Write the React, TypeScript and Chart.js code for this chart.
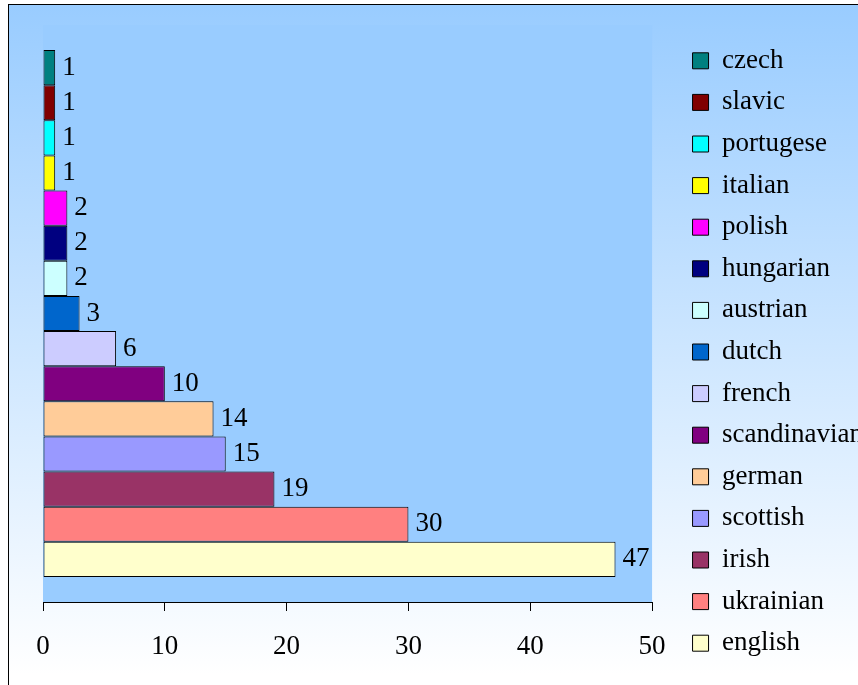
import React, { useEffect, useRef } from "react";
import { Chart, registerables } from "chart.js";

Chart.register(...registerables);

const seriesNames = [
  "czech", "slavic", "portugese", "italian", "polish", "hungarian", "austrian",
  "dutch", "french", "scandinavian", "german", "scottish", "irish", "ukrainian", "english",
];
const seriesValues = [1, 1, 1, 1, 2, 2, 2, 3, 6, 10, 14, 15, 19, 30, 47];
const seriesColors = [
  "#008080", "#800000", "#00FFFF", "#FFFF00", "#FF00FF", "#000080", "#CCFFFF",
  "#0066CC", "#CCCCFF", "#800080", "#FFCC99", "#9999FF", "#993366", "#FF8080", "#FFFFCC",
];
const categories = [""];
const xMin = 0;
const xMax = 50;
const xStep = 10;

const FONT = "'Liberation Serif', 'Times New Roman', serif";
const FONT_SIZE = 27;

const plotBgPlugin = {
  id: "plotBg",
  beforeDraw(chart: any) {
    const { ctx, chartArea } = chart;
    if (!chartArea) return;
    ctx.save();
    ctx.fillStyle = "#99CCFF";
    ctx.fillRect(chartArea.left, chartArea.top, chartArea.right - chartArea.left, chartArea.bottom - chartArea.top);
    ctx.restore();
  },
};

const valueLabelPlugin = {
  id: "valueLabels",
  afterDatasetsDraw(chart: any) {
    const { ctx } = chart;
    ctx.save();
    ctx.font = `${FONT_SIZE}px ${FONT}`;
    ctx.fillStyle = "#000000";
    ctx.textAlign = "left";
    ctx.textBaseline = "middle";
    chart.data.datasets.forEach((ds: any, i: number) => {
      const meta = chart.getDatasetMeta(i);
      meta.data.forEach((el: any, j: number) => {
        ctx.fillText(String(ds.data[j]), el.x + 7, el.y);
      });
    });
    ctx.restore();
  },
};

export default function App() {
  const canvasRef = useRef<HTMLCanvasElement | null>(null);

  useEffect(() => {
    if (!canvasRef.current) return;
    Chart.defaults.font.family = FONT;
    const chart = new Chart(canvasRef.current, {
      type: "bar",
      data: {
        labels: categories,
        datasets: seriesNames.map((name, i) => ({
          label: name,
          data: [seriesValues[i]],
          backgroundColor: seriesColors[i],
          borderColor: "#000000",
          borderWidth: 1,
          borderSkipped: false,
          barPercentage: 1,
          categoryPercentage: 0.913,
        })),
      },
      options: {
        indexAxis: "y",
        responsive: false,
        animation: false,
        devicePixelRatio: 1,
        layout: { padding: { left: 43, top: 25, right: 7, bottom: 6 } },
        plugins: {
          legend: {
            position: "right",
            align: "center",
            labels: {
              boxWidth: 16,
              boxHeight: 16,
              padding: 14.6,
              color: "#000000",
              font: { size: FONT_SIZE, family: FONT },
            },
          },
          tooltip: { enabled: false },
        },
        scales: {
          x: {
            type: "linear",
            position: "bottom",
            min: xMin,
            max: xMax,
            ticks: { stepSize: xStep, color: "#000000", font: { size: FONT_SIZE, family: FONT }, padding: 19.5 },
            grid: { drawOnChartArea: false, drawTicks: true, tickLength: 9, color: "#000000" },
            border: { display: true, color: "#000000", width: 1 },
            afterFit: (s: any) => { s.height = 77; },
          },
          y: {
            type: "category",
            display: false,
          },
          gap: {
            type: "linear",
            position: "right",
            display: true,
            grid: { display: false },
            ticks: { display: false },
            border: { display: false },
            afterFit: (s: any) => { s.width = 25.9; },
          },
        },
      },
      plugins: [plotBgPlugin, valueLabelPlugin],
    } as any);
    return () => chart.destroy();
  }, []);

  return (
    <div style={{ position: "fixed", left: 0, top: 0, width: 858, height: 685, overflow: "hidden", background: "#ffffff" }}>
      <div
        style={{
          position: "absolute",
          left: 8,
          top: 4,
          width: 900,
          height: 720,
          border: "1px solid #000000",
          background: "linear-gradient(to bottom, #99CCFF 0px, #FFFFFF 670px)",
        }}
      />
      <canvas
        ref={canvasRef}
        width={880}
        height={685}
        style={{ position: "absolute", left: 0, top: 0, width: 880, height: 685 }}
      />
    </div>
  );
}
